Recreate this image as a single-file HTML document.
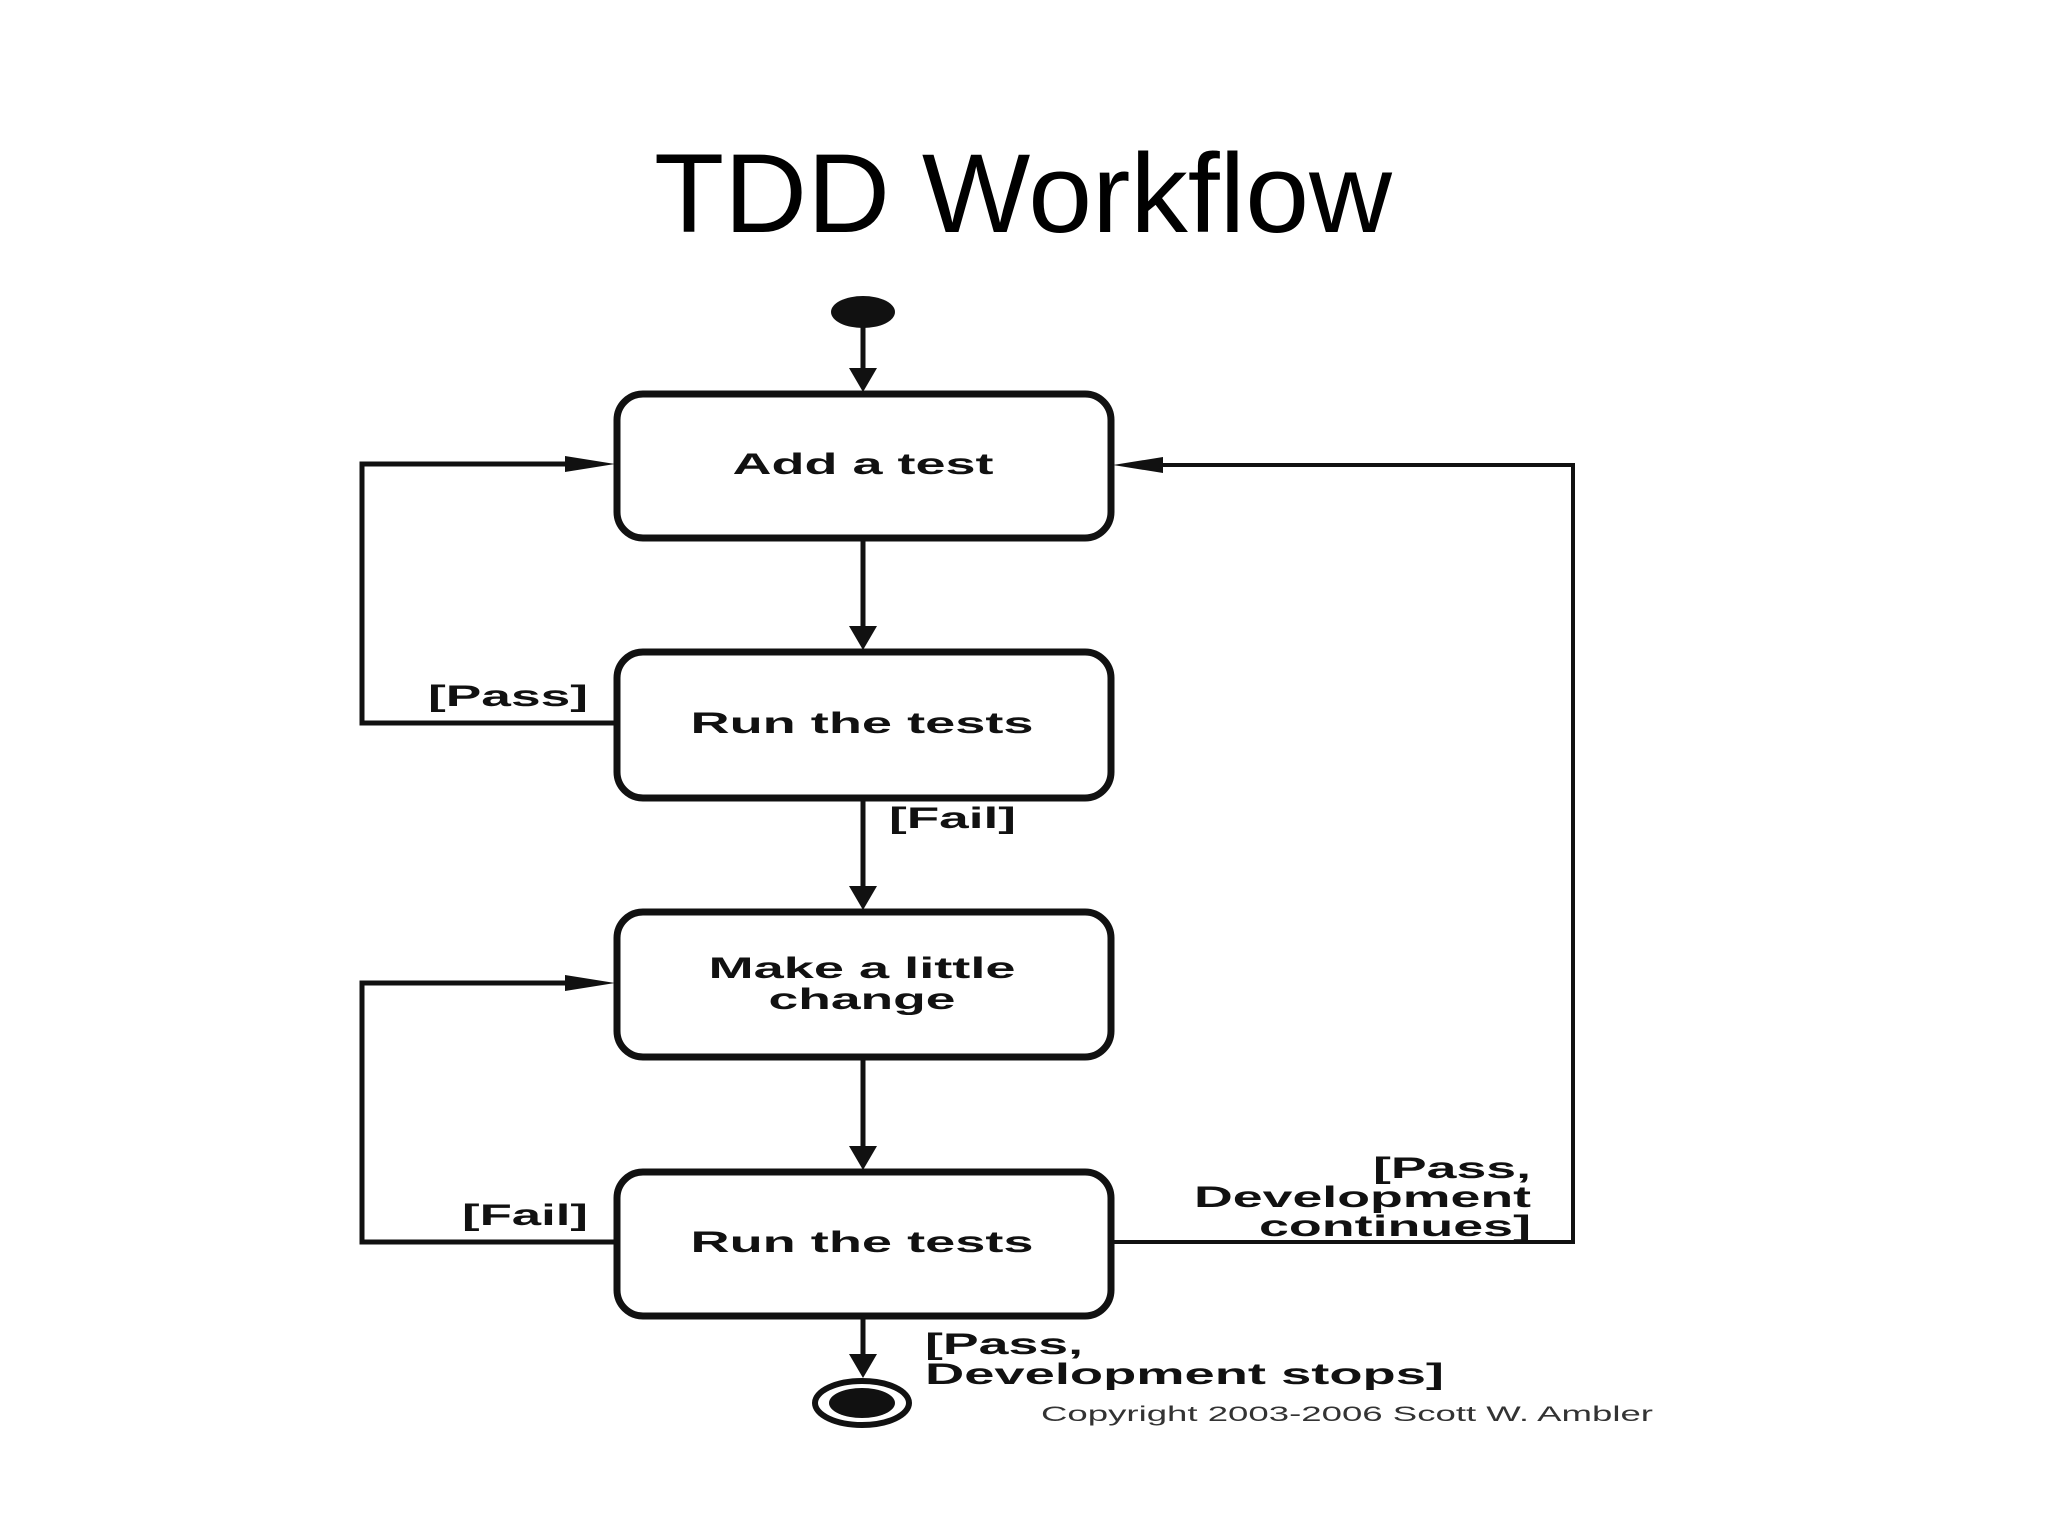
<!DOCTYPE html>
<html><head><meta charset="utf-8"><style>
html,body{margin:0;padding:0;background:#fff;}
svg{display:block;}
</style></head><body>
<svg width="2048" height="1536" viewBox="0 0 2048 1536" xmlns="http://www.w3.org/2000/svg">
<text x="1023" y="232" font-family="Liberation Sans, sans-serif" font-size="112" text-anchor="middle" textLength="738" lengthAdjust="spacingAndGlyphs" fill="#000">TDD Workflow</text>
<g fill="none" stroke="#111" stroke-width="7">
<rect x="617" y="394" width="494" height="144" rx="26"/>
<rect x="617" y="652" width="494" height="146" rx="26"/>
<rect x="617" y="912" width="494" height="145" rx="26"/>
<rect x="617" y="1172" width="494" height="144" rx="26"/>
</g>
<g stroke="#111" stroke-width="5" fill="none">
<line x1="863" y1="325" x2="863" y2="370"/>
<line x1="863" y1="538" x2="863" y2="628"/>
<line x1="863" y1="798" x2="863" y2="888"/>
<line x1="863" y1="1057" x2="863" y2="1148"/>
<line x1="863" y1="1316" x2="863" y2="1355"/>
<polyline points="617,723 362,723 362,464 570,464"/>
<polyline points="617,1242 362,1242 362,983 570,983"/>
<polyline points="1111,1242 1573,1242 1573,465 1160,465" stroke-width="4"/>
</g>
<g fill="#111">
<ellipse cx="863" cy="312" rx="32" ry="16"/>
<polygon points="849,368 877,368 863,392"/>
<polygon points="849,626 877,626 863,650"/>
<polygon points="849,886 877,886 863,910"/>
<polygon points="849,1146 877,1146 863,1170"/>
<polygon points="849,1354 877,1354 863,1378"/>
<polygon points="565,456 565,472 615,464"/>
<polygon points="565,975 565,991 615,983"/>
<polygon points="1163,457 1163,473 1113,465"/>
<ellipse cx="862" cy="1403" rx="33" ry="15"/>
</g>
<ellipse cx="862" cy="1403" rx="47" ry="22" fill="none" stroke="#111" stroke-width="6"/>
<g font-family="Liberation Sans, sans-serif" font-weight="bold" font-size="30" fill="#111">
<text x="863" y="474" text-anchor="middle" textLength="261" lengthAdjust="spacingAndGlyphs">Add a test</text>
<text x="862" y="733" text-anchor="middle" textLength="343" lengthAdjust="spacingAndGlyphs">Run the tests</text>
<text x="862" y="978" text-anchor="middle" textLength="307" lengthAdjust="spacingAndGlyphs">Make a little</text>
<text x="862" y="1009" text-anchor="middle" textLength="187" lengthAdjust="spacingAndGlyphs">change</text>
<text x="862" y="1252" text-anchor="middle" textLength="343" lengthAdjust="spacingAndGlyphs">Run the tests</text>
<text x="428" y="706" textLength="160" lengthAdjust="spacingAndGlyphs">[Pass]</text>
<text x="889" y="828" textLength="127" lengthAdjust="spacingAndGlyphs">[Fail]</text>
<text x="462" y="1225" textLength="126" lengthAdjust="spacingAndGlyphs">[Fail]</text>
<text x="1531" y="1178" text-anchor="end" textLength="158" lengthAdjust="spacingAndGlyphs">[Pass,</text>
<text x="1531" y="1207" text-anchor="end" textLength="337" lengthAdjust="spacingAndGlyphs">Development</text>
<text x="1531" y="1236" text-anchor="end" textLength="272" lengthAdjust="spacingAndGlyphs">continues]</text>
<text x="925" y="1354" textLength="158" lengthAdjust="spacingAndGlyphs">[Pass,</text>
<text x="925" y="1384" textLength="519" lengthAdjust="spacingAndGlyphs">Development stops]</text>
</g>
<text x="1041" y="1421" font-family="Liberation Sans, sans-serif" font-size="21" fill="#333" textLength="612" lengthAdjust="spacingAndGlyphs">Copyright 2003-2006 Scott W. Ambler</text>
</svg>
</body></html>
